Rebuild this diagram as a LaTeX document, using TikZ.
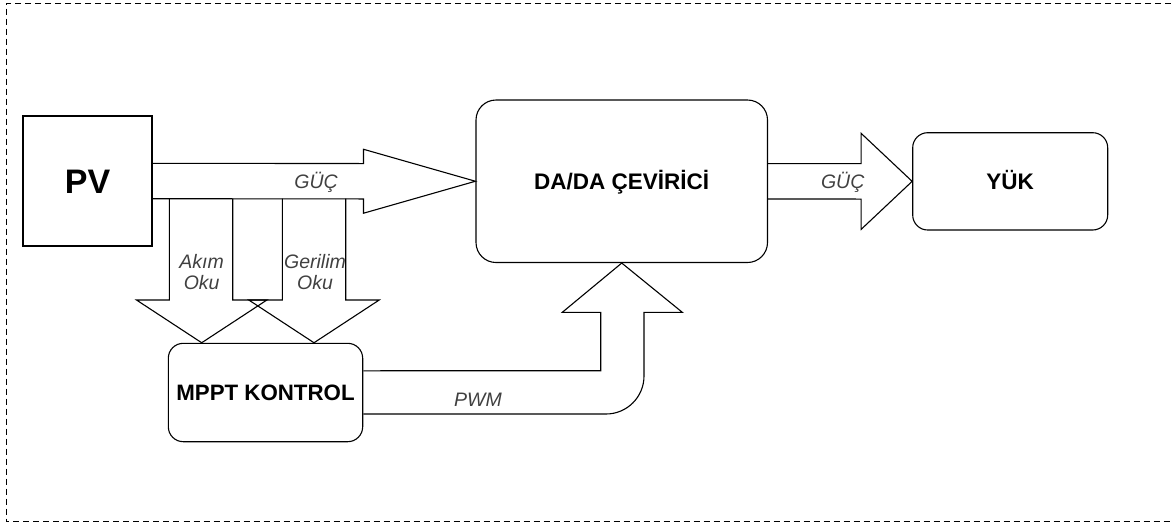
\documentclass[tikz,border=0pt]{standalone}
\usepackage{fontspec}
\setmainfont{Liberation Sans}
\usetikzlibrary{calc}
\definecolor{labelgray}{RGB}{64,64,64}
\tikzset{
  block/.style={draw=black, line width=1.1pt, fill=white, inner sep=0pt, text height=#1, text depth=0pt},
  roundblock/.style={block=#1, rounded corners=15pt},
  blocktext/.style={font=\fontsize{22.5}{26}\selectfont\bfseries},
  flow/.style={draw=black, line width=1.1pt, line join=miter},
  flowlabel/.style={font=\fontsize{19.5}{21.7}\selectfont\itshape, text=labelgray, inner sep=0pt, align=center},
  frame/.style={draw=black, line width=0.9pt, dash pattern=on 6pt off 4pt}
}
\begin{document}
\begin{tikzpicture}[x=1pt, y=-1pt]
  \useasboundingbox (0,0) rectangle (1171,523);
  % outer dashed frame (right side runs past the page edge)
  \draw[frame] (1171,3) -- (6.5,3) -- (6.5,521.5) -- (1171,521.5);

  % blocks
  \node[block=24.5pt, minimum width=129pt, minimum height=130pt,
        font=\fontsize{34}{38}\selectfont\bfseries] (pv) at (87.5,181) {PV};
  \node[roundblock=16pt, rounded corners=20pt, minimum width=291.5pt, minimum height=162.5pt,
        blocktext] (dc) at (621.75,181.25) {DA/DA ÇEVİRİCİ};
  \node[roundblock=16pt, minimum width=195pt, minimum height=97.3pt,
        blocktext] (load) at (1010.2,181.35) {YÜK};
  \node[roundblock=16pt, minimum width=194.4pt, minimum height=98.4pt,
        font=\fontsize{22.3}{26}\selectfont\bfseries] (mppt) at (265.5,392.5) {MPPT KONTROL};

  % power flow PV -> converter
  \draw[flow] ($(pv.east)+(0,-17.7)$) -- ($(dc.west)+(-112,-17.7)$)
              -- ($(dc.west)+(-112,-32)$) -- (dc.west)
              -- ($(dc.west)+(-112,32)$) -- ($(dc.west)+(-112,17.7)$)
              -- ($(pv.east)+(0,17.7)$);
  \node[flowlabel, anchor=base] (guc1) at (316,188.3) {GÜÇ};

  % power flow converter -> load
  \draw[flow] ($(dc.east)+(0,-17.7)$) -- ($(load.west)+(-51,-17.7)$)
              -- ($(load.west)+(-51,-48)$) -- (load.west)
              -- ($(load.west)+(-51,48)$) -- ($(load.west)+(-51,17.7)$)
              -- ($(dc.east)+(0,17.7)$);
  \node[flowlabel, anchor=base] (guc2) at (842.7,188.3) {GÜÇ};

  % current measurement arrow
  \coordinate (akimtip) at ($(mppt.north)+(-63.8,0)$);
  \draw[flow] (169.3,198.7) -- (169.3,300) -- (136.5,300) -- (akimtip)
              -- (266.9,300) -- (232.7,300) -- (232.7,198.7);
  \node[flowlabel] (akim) at (201.7,272) {Akım\\Oku};

  % voltage measurement arrow
  \coordinate (geriltip) at ($(mppt.north)+(48.5,0)$);
  \draw[flow] (282.3,198.7) -- (282.3,300) -- (248.8,300) -- (geriltip)
              -- (379.2,300) -- (345.7,300) -- (345.7,198.7);
  \node[flowlabel] (gerilim) at (315,272) {Gerilim\\Oku};

  % PWM signal to the converter
  \coordinate (pwmtip) at (dc.south);
  \draw[flow] ($(mppt.east)+(0,-21.7)$) -- (600.7,370.7) -- (600.7,312.3)
              -- (562.3,312.3) -- (pwmtip) -- (682.3,312.3) -- (644,312.3)
              -- (644,376) arc[start angle=0, end angle=90, radius=38]
              -- ($(mppt.east)+(0,21.5)$);
  \node[flowlabel, anchor=base] (pwm) at (478,406) {PWM};
\end{tikzpicture}
\end{document}
